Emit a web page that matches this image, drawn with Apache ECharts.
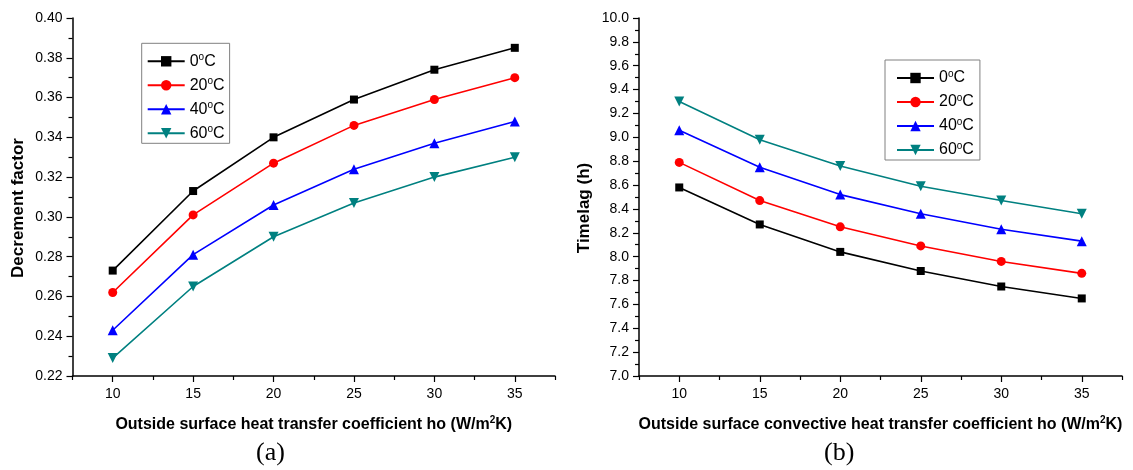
<!DOCTYPE html>
<html>
<head>
<meta charset="utf-8">
<script src="https://cdn.jsdelivr.net/npm/echarts@6/dist/echarts.min.js"></script>
<style>
html,body{margin:0;padding:0;background:#fff;}
#c{width:1133px;height:470px;}
</style>
</head>
<body>
<div id="c"></div>
<script>
var xValues = [10, 15, 20, 25, 30, 35];
var seriesNames = ['0°C', '20°C', '40°C', '60°C'];
var decrement0 = [0.273, 0.313, 0.340, 0.359, 0.374, 0.385];
var decrement20 = [0.262, 0.301, 0.327, 0.346, 0.359, 0.370];
var decrement40 = [0.243, 0.281, 0.306, 0.324, 0.337, 0.348];
var decrement60 = [0.229, 0.265, 0.290, 0.307, 0.320, 0.330];
var timelag0 = [8.58, 8.27, 8.04, 7.88, 7.75, 7.65];
var timelag20 = [8.79, 8.47, 8.25, 8.09, 7.96, 7.86];
var timelag40 = [9.06, 8.75, 8.52, 8.36, 8.23, 8.13];
var timelag60 = [9.30, 8.98, 8.76, 8.59, 8.47, 8.36];
var xTickLabels = [10, 15, 20, 25, 30, 35];
var xMinorTicks = [7.5, 12.5, 17.5, 22.5, 27.5, 32.5, 37.5];

var colors = ['#000000', '#ff0000', '#0000ff', '#008080'];
var symbols = ['rect', 'circle', 'triangle', 'triangle'];
var symbolSizes = [8, 9, 10, 10];
var symbolRotates = [0, 0, 0, 180];
var FONT = '"Liberation Sans", Arial, sans-serif';

function pairs(ys) { return xValues.map(function (x, i) { return [x, ys[i]]; }); }

var chart = echarts.init(document.getElementById('c'), null, {renderer: 'canvas'});

var grids = [
  {left: 72.5, top: 18, width: 482.5, height: 358},
  {left: 639, top: 18, width: 483, height: 358}
];

function mainX(gi, title) {
  return {
    type: 'value', gridIndex: gi, min: 7.5, max: 37.5,
    name: title, nameLocation: 'middle', nameGap: 39,
    nameTextStyle: {fontFamily: FONT, fontWeight: 'bold', fontSize: 16, color: '#000',
      rich: {sup: {fontFamily: FONT, fontWeight: 'bold', fontSize: 10, color: '#000', verticalAlign: 'top', padding: [0, 0, 9, 0]}}},
    axisLine: {show: true, onZero: false, lineStyle: {color: '#000', width: 1.5}},
    axisTick: {show: true, inside: false, length: 6, lineStyle: {color: '#000', width: 1.2}, customValues: xTickLabels},
    axisLabel: {show: true, margin: 11, fontFamily: FONT, fontSize: 14, color: '#000', customValues: xTickLabels},
    splitLine: {show: false}
  };
}
function minorX(gi) {
  return {
    type: 'value', gridIndex: gi, min: 7.5, max: 37.5, position: 'bottom',
    axisLine: {show: false},
    axisTick: {show: true, inside: false, length: 4, lineStyle: {color: '#000', width: 1.2}, customValues: xMinorTicks},
    axisLabel: {show: false},
    splitLine: {show: false}
  };
}
function mainY(gi, title, min, max, interval, digits) {
  return {
    type: 'value', gridIndex: gi, min: min, max: max, interval: interval,
    name: title, nameLocation: 'middle', nameGap: 46,
    nameTextStyle: {fontFamily: FONT, fontWeight: 'bold', fontSize: 17, color: '#000', padding: [0, 22, 0, 0]},
    axisLine: {show: true, onZero: false, lineStyle: {color: '#000', width: 1.5}},
    axisTick: {show: true, inside: false, length: 6, lineStyle: {color: '#000', width: 1.2}},
    minorTick: {show: true, splitNumber: 2, length: 4, lineStyle: {color: '#000', width: 1.2}},
    axisLabel: {show: true, margin: 10, fontFamily: FONT, fontSize: 14, color: '#000',
      formatter: function (v) { return v.toFixed(digits); }},
    splitLine: {show: false},
    minorSplitLine: {show: false}
  };
}

var series = [];
var leftData = [decrement0, decrement20, decrement40, decrement60];
var rightData = [timelag0, timelag20, timelag40, timelag60];
[leftData, rightData].forEach(function (set, gi) {
  set.forEach(function (ys, k) {
    series.push({
      type: 'line', name: seriesNames[k], xAxisIndex: gi * 2, yAxisIndex: gi,
      data: pairs(ys), symbol: symbols[k], symbolSize: symbolSizes[k], symbolRotate: symbolRotates[k],
      showAllSymbol: true, animation: false,
      lineStyle: {color: colors[k], width: 1.6},
      itemStyle: {color: colors[k]}
    });
  });
});

function legend(left, top, padLeft, padRight) {
  return {
    orient: 'vertical', left: left, top: top,
    padding: [9, padRight, 1, padLeft], itemGap: 6, itemWidth: 37, itemHeight: 13,
    backgroundColor: '#fff', borderColor: '#808080', borderWidth: 1,
    data: seriesNames, selectedMode: false,
    formatter: function (n) { return n.replace('°', '{s|o}'); },
    textStyle: {fontFamily: FONT, fontSize: 16, color: '#000', lineHeight: 18,
      rich: {s: {fontFamily: FONT, fontSize: 10, color: '#000', lineHeight: 10, verticalAlign: 'top'}}}
  };
}

var option = {
  backgroundColor: '#fff',
  animation: false,
  grid: grids,
  xAxis: [
    mainX(0, 'Outside surface heat transfer coefficient ho (W/m{sup|2}K)'), minorX(0),
    mainX(1, 'Outside surface convective heat transfer coefficient ho (W/m{sup|2}K)'), minorX(1)
  ],
  yAxis: [
    mainY(0, 'Decrement factor', 0.22, 0.40, 0.02, 2),
    mainY(1, 'Timelag (h)', 7.0, 10.0, 0.2, 1)
  ],
  legend: [legend(141.7, 43.3, 5, 5), legend(885, 60, 11, 6)],
  series: series,
  graphic: [
    {type: 'text', left: 256, top: 440, style: {text: '(a)', font: '26px "Liberation Serif", "Times New Roman", serif', fill: '#000'}},
    {type: 'text', left: 824, top: 440, style: {text: '(b)', font: '26px "Liberation Serif", "Times New Roman", serif', fill: '#000'}}
  ]
};
chart.setOption(option);
</script>
</body>
</html>
